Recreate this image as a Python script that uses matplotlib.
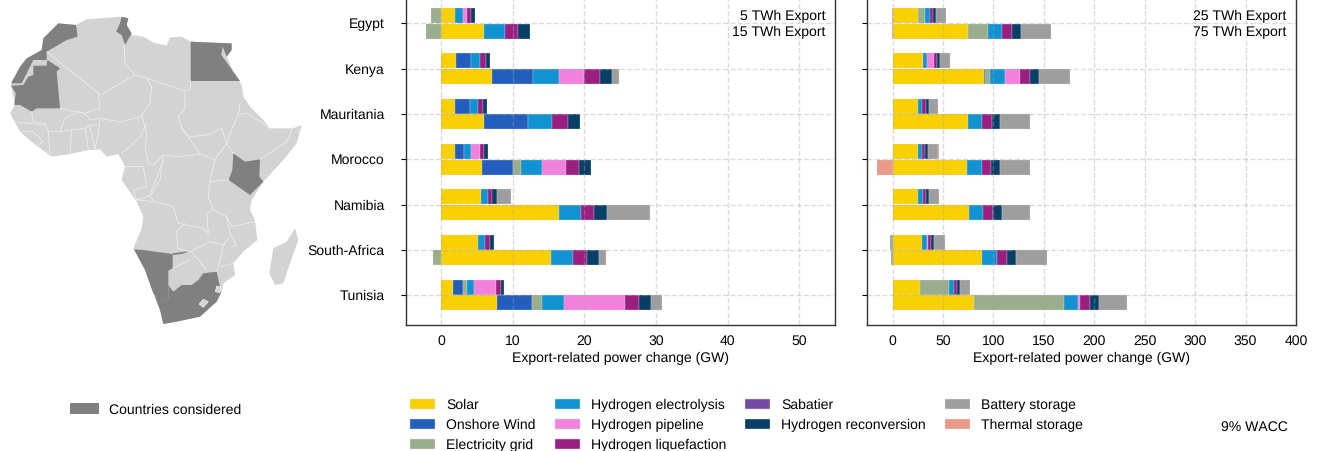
import matplotlib
matplotlib.use('Agg')
import matplotlib.pyplot as plt
import numpy as np
from matplotlib.patches import Patch, Polygon

plt.rcParams['font.family'] = ['Liberation Sans', 'DejaVu Sans']
plt.rcParams['font.size'] = 10
plt.rcParams['text.hinting'] = 'no_hinting'
plt.rcParams['text.hinting_factor'] = 1

countries = ['Egypt', 'Kenya', 'Mauritania', 'Morocco', 'Namibia', 'South-Africa', 'Tunisia']
techs = ['Solar', 'Onshore Wind', 'Electricity grid', 'Hydrogen electrolysis', 'Hydrogen pipeline',
         'Hydrogen liquefaction', 'Sabatier', 'Hydrogen reconversion', 'Battery storage', 'Thermal storage']
colors = ['#f9d002', '#235ebc', '#9aad8c', '#1192d1', '#f081dc', '#9a1f81', '#7349a2', '#073f66', '#9e9e9e', '#e99a88']

# GW per country, one list per technology, 5 TWh export
solar_5 = [1.96, 2.1, 1.91, 1.96, 5.55, 5.13, 1.63]
wind_5 = [0, 2.05, 2.05, 1.21, 0, 0, 1.45]
grid_5 = [-1.45, 0, 0, 0, 0, 0, 0.51]
elec_5 = [1.03, 1.3, 1.12, 0.98, 0.98, 1.03, 0.98]
pipe_5 = [0.6, 0, 0, 1.26, 0, 0, 3.08]
liq_5 = [0.6, 0.8, 0.7, 0.56, 0.6, 0.65, 0.7]
sab_5 = [0, 0, 0, 0, 0, 0, 0]
recon_5 = [0.56, 0.6, 0.6, 0.56, 0.6, 0.56, 0.47]
batt_5 = [0, 0, 0, 0, 2.05, 0, 0]
therm_5 = [0, 0, 0, 0, 0, 0, 0]

# 15 TWh export
solar_15 = [5.97, 7.09, 5.92, 5.64, 16.5, 15.3, 7.79]
wind_15 = [0, 5.73, 6.15, 4.34, 0, 0, 4.9]
grid_15 = [-2.2, 0, 0, 1.12, 0, -1.12, 1.4]
elec_15 = [2.94, 3.64, 3.45, 2.98, 2.98, 3.12, 3.08]
pipe_15 = [0, 3.54, 0, 3.36, 0, 0, 8.53]
liq_15 = [1.82, 2.19, 2.14, 1.82, 1.86, 1.96, 1.96]
sab_15 = [0, 0, 0, 0, 0, 0, 0]
recon_15 = [1.68, 1.72, 1.72, 1.68, 1.77, 1.68, 1.68]
batt_15 = [0, 0.93, 0, 0, 6.1, 0.98, 1.49]
therm_15 = [0, 0, 0, 0, 0, 0, 0]

# 25 TWh export
solar_25 = [25.1, 30, 25.1, 24.8, 25.4, 29.4, 27]
wind_25 = [0, 0, 0, 0, 0, 0, 0]
grid_25 = [7.3, 0, 0, 0, 0, -2.3, 29.4]
elec_25 = [4.3, 4.6, 4.6, 4.3, 4.6, 4.9, 4.6]
pipe_25 = [0, 6.3, 0, 0, 0, 0.8, 0]
liq_25 = [3.3, 3, 3, 3.3, 3, 3.3, 3]
sab_25 = [0, 0, 0, 0, 0, 0, 0]
recon_25 = [3, 3, 3, 3, 3, 3, 3]
batt_25 = [10.2, 10.2, 9.6, 9.6, 9.6, 10.6, 9.6]
therm_25 = [-1, 0, 0, 0.7, 0, 0, 0]

# 75 TWh export
solar_75 = [74.6, 90.4, 75.2, 74.3, 75.9, 88.4, 81.2]
wind_75 = [0, 1, 0, 0, 0, 0, 0]
grid_75 = [20.1, 5.3, 0, 0, 0, -1.7, 88.8]
elec_75 = [13.9, 14.5, 13.5, 14.2, 13.9, 15.2, 14.2]
pipe_75 = [0, 15.5, 0, 0, 0, 0, 1.6]
liq_75 = [9.6, 9.6, 9.6, 9.2, 9.9, 9.9, 9.6]
sab_75 = [0, 0, 0, 0, 0, 0, 0]
recon_75 = [8.9, 8.6, 8.6, 8.6, 8.6, 8.6, 8.9]
batt_75 = [30.4, 30.7, 29.7, 29.7, 28.4, 30.7, 28.4]
therm_75 = [-1, 0, 0, -15.2, 0, 0, 0]

low_5 = [solar_5, wind_5, grid_5, elec_5, pipe_5, liq_5, sab_5, recon_5, batt_5, therm_5]
high_15 = [solar_15, wind_15, grid_15, elec_15, pipe_15, liq_15, sab_15, recon_15, batt_15, therm_15]
low_25 = [solar_25, wind_25, grid_25, elec_25, pipe_25, liq_25, sab_25, recon_25, batt_25, therm_25]
high_75 = [solar_75, wind_75, grid_75, elec_75, pipe_75, liq_75, sab_75, recon_75, batt_75, therm_75]

# map outlines, traced in zoomed pixels of the map area
africa = [(175, 70), (228, 75), (260, 58), (300, 55), (340, 52), (358, 50), (385, 55), (380, 75), (395, 105), (430, 110),
          (460, 128), (500, 137), (510, 112), (545, 110), (570, 125), (640, 128), (695, 132), (695, 150), (680, 170),
          (700, 215), (725, 255), (730, 290), (750, 320), (790, 360), (810, 385), (880, 385), (905, 375), (890, 430),
          (850, 480), (790, 545), (755, 600), (750, 630), (765, 660), (772, 720), (730, 755), (700, 790), (705, 825),
          (670, 850), (665, 875), (650, 905), (600, 950), (530, 965), (490, 972), (480, 930), (460, 880), (435, 810),
          (400, 745), (425, 685), (430, 650), (410, 605), (365, 540), (375, 500), (355, 462), (320, 470), (300, 448),
          (265, 450), (210, 462), (155, 470), (100, 430), (60, 395), (30, 340), (45, 315), (33, 255), (70, 190),
          (125, 150), (130, 115)]
madagascar = [(885, 685), (895, 720), (870, 790), (850, 850), (825, 855), (808, 820), (820, 745), (860, 725)]
morocco = [(175, 70), (228, 75), (233, 110), (200, 120), (140, 155), (140, 180), (100, 180), (65, 250), (33, 250),
           (60, 200), (80, 175), (125, 150), (130, 115)]
mauritania = [(142, 180), (180, 205), (170, 215), (180, 325), (110, 325), (95, 335), (60, 315), (43, 315), (47, 280),
              (33, 257), (70, 255), (85, 230), (100, 225), (100, 197), (140, 197)]
tunisia = [(365, 50), (385, 55), (380, 75), (395, 100), (375, 135), (365, 105), (348, 95), (360, 70)]
egypt = [(572, 125), (640, 128), (695, 130), (695, 150), (680, 170), (668, 140), (664, 165), (700, 215), (720, 243),
         (572, 243)]
kenya = [(700, 460), (735, 485), (780, 478), (778, 530), (790, 545), (750, 585), (686, 540), (697, 510)]
namibia = [(402, 748), (430, 750), (518, 762), (518, 805), (505, 812), (505, 895), (490, 903), (470, 895), (460, 880),
           (435, 810)]
caprivi = [(518, 760), (570, 753), (545, 762), (518, 765)]
south_africa = [(505, 855), (520, 875), (545, 855), (575, 855), (595, 840), (610, 820), (650, 815), (660, 860), (645, 875),
                (665, 875), (650, 905), (600, 950), (530, 965), (490, 972), (480, 930), (465, 890), (490, 903),
                (505, 895)]
lesotho = [(610, 898), (625, 905), (610, 922), (597, 912)]
eswatini = [(650, 858), (663, 862), (660, 878), (646, 875)]
borders = [
    [(140, 155), (295, 280), (305, 283), (405, 225), (375, 190), (372, 130)],
    [(405, 225), (440, 235), (555, 272), (570, 268), (572, 243)],
    [(295, 280), (300, 325), (255, 340), (180, 325)],
    [(440, 235), (455, 260), (450, 310), (425, 345), (440, 400)],
    [(555, 272), (555, 325), (535, 350), (545, 385)],
    [(255, 340), (270, 360), (300, 355), (360, 365), (425, 350)],
    [(300, 355), (295, 400), (285, 445)],
    [(440, 370), (420, 410), (390, 440), (365, 460)],
    [(255, 340), (235, 335), (195, 355), (180, 395), (145, 395), (135, 370), (100, 365), (95, 335)],
    [(40, 365), (135, 375)],
    [(145, 395), (150, 465)],
    [(215, 390), (210, 460)],
    [(255, 385), (265, 445)],
    [(270, 380), (285, 445)],
    [(180, 395), (215, 390), (255, 385), (270, 375), (295, 375)],
    [(60, 395), (100, 395), (130, 425), (105, 440)],
    [(440, 400), (435, 440), (445, 490), (460, 495), (490, 465), (540, 470), (600, 462), (645, 480)],
    [(545, 385), (600, 460)],
    [(545, 385), (570, 410), (620, 405), (665, 385), (680, 430), (645, 480)],
    [(375, 500), (430, 500), (440, 560), (400, 570), (410, 600), (445, 590), (460, 560), (490, 480)],
    [(490, 465), (480, 540), (450, 590), (465, 605), (520, 620), (535, 670), (610, 685), (625, 700), (620, 640),
     (640, 630), (680, 650), (690, 700), (710, 735), (695, 740)],
    [(645, 480), (630, 540), (625, 590), (640, 630)],
    [(630, 545), (686, 540)],
    [(680, 650), (695, 680), (765, 665)],
    [(410, 600), (465, 605)],
    [(555, 670), (530, 695), (533, 745), (570, 755)],
    [(570, 755), (630, 725), (670, 735), (690, 710)],
    [(575, 755), (620, 810)],
    [(670, 735), (660, 780), (650, 815)],
    [(660, 800), (700, 790)],
    [(720, 310), (715, 345), (690, 400), (680, 430), (700, 460)],
    [(715, 345), (740, 340), (790, 370), (810, 385)],
    [(780, 478), (860, 425), (880, 380)],
    [(518, 805), (570, 780)],
]

W, H = 1320, 451
fig = plt.figure(figsize=(W / 100, H / 100), dpi=100)


def px_axes(x0, x1, y0, y1):
    return fig.add_axes([x0 / W, 1 - y1 / H, (x1 - x0) / W, (y1 - y0) / H])


def stacked(ax, rows, ypos):
    for i, c in enumerate(countries):
        pos = 0
        neg = 0
        for t, row in enumerate(rows):
            v = row[i]
            if v == 0:
                continue
            if v > 0:
                ax.barh(ypos + i, v, left=pos, height=0.33, color=colors[t], edgecolor='#dde3e8', linewidth=0.2)
                pos += v
            else:
                ax.barh(ypos + i, v, left=neg, height=0.33, color=colors[t], edgecolor='#dde3e8', linewidth=0.2)
                neg += v


def panel(ax, low, high, xlim, xticks, lab1, lab2):
    stacked(ax, low, -0.172)
    stacked(ax, high, 0.172)
    ax.set_xlim(*xlim)
    ax.set_ylim(6.66, -0.66)
    ax.set_xticks(xticks)
    ax.set_yticks(np.arange(len(countries)))
    ax.set_axisbelow(False)
    ax.grid(True, color='#a8a8a8', linestyle='--', linewidth=1, alpha=0.4)
    ax.tick_params(axis='x', length=0, pad=7)
    ax.tick_params(axis='y', length=3.5, width=0.8, pad=11.4)
    ax.set_xlabel('Export-related power change (GW)', labelpad=2.8)
    for s in ax.spines.values():
        s.set_color('#333333')
        s.set_linewidth(1)
    ax.text(0.977, 1 - 22.5 / 331.5, lab1, transform=ax.transAxes, ha='right', va='center')
    ax.text(0.977, 1 - 39 / 331.5, lab2, transform=ax.transAxes, ha='right', va='center')


ax1 = px_axes(405.5, 835, -6.5, 325)
panel(ax1, low_5, high_15, (-5, 55), [0, 10, 20, 30, 40, 50], '5 TWh Export', '15 TWh Export')
ax1.set_yticklabels(countries)

ax2 = px_axes(867.3, 1296, -6.5, 325)
panel(ax2, low_25, high_75, (-25, 400), [0, 50, 100, 150, 200, 250, 300, 350, 400], '25 TWh Export', '75 TWh Export')
ax2.set_yticklabels([])

# map
axm = px_axes(0, 310, 0, 340)
axm.set_xlim(0, 930)
axm.set_ylim(1020, 0)
axm.axis('off')
for shape in [africa, madagascar]:
    axm.add_patch(Polygon(shape, closed=True, facecolor='#d3d3d3', edgecolor='none'))
for line in borders:
    xs, ys = zip(*line)
    axm.plot(xs, ys, color='#f2f2f2', linewidth=0.5)
for shape in [morocco, mauritania, tunisia, egypt, kenya, namibia, caprivi, south_africa]:
    axm.add_patch(Polygon(shape, closed=True, facecolor='#808080', edgecolor='none'))
for shape in [lesotho, eswatini]:
    axm.add_patch(Polygon(shape, closed=True, facecolor='#d3d3d3', edgecolor='white', linewidth=0.4))

# legends
handles = [Patch(facecolor=c, edgecolor='#dde3e8', linewidth=0.3, label=t) for c, t in zip(colors, techs)]
fig.legend(handles=handles, ncol=4, frameon=False, loc='upper left', bbox_to_anchor=(410 / W, 1 - 398.5 / H),
           borderaxespad=0, borderpad=0, handlelength=1.82, handleheight=0.7, handletextpad=0.8, columnspacing=1.35,
           labelspacing=0.5)
fig.legend(handles=[Patch(facecolor='#808080', label='Countries considered')], frameon=False, loc='center left',
           bbox_to_anchor=(70 / W, 1 - 410 / H), borderaxespad=0, borderpad=0, handlelength=2.1, handleheight=0.8,
           handletextpad=0.7)
fig.text(1288 / W, 1 - 427 / H, '9% WACC', ha='right', va='center')

fig.savefig('out.png', dpi=100)
